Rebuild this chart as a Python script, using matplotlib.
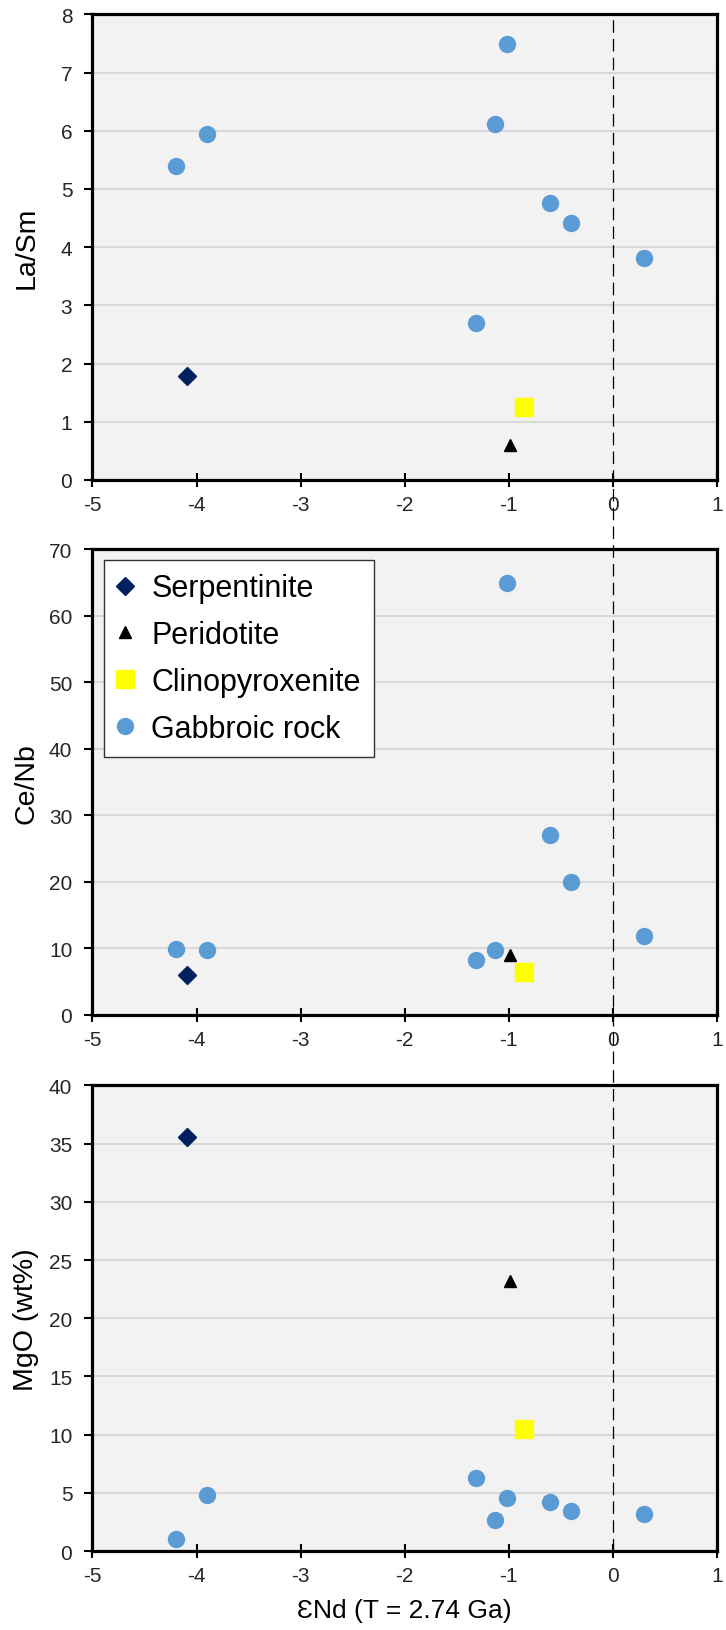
import numpy as np
import matplotlib
matplotlib.use("Agg")
import matplotlib.pyplot as plt
from matplotlib.lines import Line2D
from matplotlib.transforms import blended_transform_factory

plt.rcParams["axes.unicode_minus"] = False

# eNd (T = 2.74 Ga) for each rock type
serp_end = [-4.09]
perid_end = [-0.99]
clino_end = [-0.85]
gabbro_end = [-4.20, -3.90, -1.32, -1.13, -1.02, -0.60, -0.40, 0.30]

# La/Sm
serp_lasm = [1.78]
perid_lasm = [0.60]
clino_lasm = [1.26]
gabbro_lasm = [5.39, 5.95, 2.69, 6.11, 7.49, 4.76, 4.42, 3.81]

# Ce/Nb
serp_cenb = [6.0]
perid_cenb = [9.0]
clino_cenb = [6.4]
gabbro_cenb = [9.95, 9.7, 8.3, 9.8, 65.0, 27.0, 20.0, 11.8]

# MgO (wt%)
serp_mgo = [35.6]
perid_mgo = [23.2]
clino_mgo = [10.45]
gabbro_mgo = [1.04, 4.8, 6.3, 2.66, 4.6, 4.2, 3.4, 3.2]

panels = [
    ("La/Sm", serp_lasm, perid_lasm, clino_lasm, gabbro_lasm, 8, 1),
    ("Ce/Nb", serp_cenb, perid_cenb, clino_cenb, gabbro_cenb, 70, 10),
    ("MgO (wt%)", serp_mgo, perid_mgo, clino_mgo, gabbro_mgo, 40, 5),
]
xticks = [-5, -4, -3, -2, -1, 0, 1]

label_font = ["Liberation Sans", "DejaVu Sans"]

fig = plt.figure(figsize=(7.26, 16.31), dpi=100)
left, width = 0.1274, 0.8602
bottoms = [0.7051, 0.3771, 0.0484]
height = 0.2855

axes = []
for i, (ylab, serp, perid, clino, gabbro, ymax, ystep) in enumerate(panels):
    ax = fig.add_axes([left, bottoms[i], width, height])
    ax.set_facecolor("#F2F2F2")
    ax.set_xlim(-5, 1)
    ax.set_ylim(0, ymax)
    ax.set_xticks(xticks)
    ax.set_yticks(np.arange(0, ymax + ystep / 2, ystep))
    ax.yaxis.grid(True, color="#D9D9D9", lw=1.5, zorder=0)
    ax.set_axisbelow(True)
    for sp in ax.spines.values():
        sp.set_linewidth(2.3)
        sp.set_color("black")
    ax.tick_params(axis="x", direction="inout", length=10, width=1.5, pad=6,
                   labelsize=15, labelcolor="#262626")
    ax.tick_params(axis="y", direction="out", length=5.5, width=1.5, pad=9,
                   labelsize=15, labelcolor="#262626")
    for t in ax.get_xticklabels() + ax.get_yticklabels():
        t.set_family(label_font)

    ax.plot(serp_end, serp, ls="none", marker="D", ms=9, color="#002060",
            label="Serpentinite", zorder=3)
    ax.plot(perid_end, perid, ls="none", marker="^", ms=9, color="black",
            label="Peridotite", zorder=3)
    ax.plot(clino_end, clino, ls="none", marker="s", ms=13.5, color="#FFFF00",
            label="Clinopyroxenite", zorder=3)
    ax.plot(gabbro_end, gabbro, ls="none", marker="o", ms=11.5, color="#5B9BD5",
            label="Gabbroic rock", zorder=3)

    ax.set_ylabel(ylab, fontsize=20.5, family=label_font)
    ax.yaxis.set_label_coords(-0.085, 0.5)
    axes.append(ax)

axes[2].set_xlabel("\u0190Nd (T = 2.74 Ga)", fontsize=19, family=label_font)
axes[2].xaxis.set_label_coords(0.5, -0.1)

leg = axes[1].legend(loc="upper left", bbox_to_anchor=(0.0184, 0.978),
                     borderaxespad=0, fancybox=False, framealpha=1,
                     edgecolor="#333333", prop={"family": label_font, "size": 22},
                     handlelength=0.5, handletextpad=0.6, borderpad=0.45,
                     labelspacing=0.55)
leg.get_frame().set_linewidth(1.0)

# dashed line at eNd = 0 running through all three panels
trans = blended_transform_factory(axes[0].transData, fig.transFigure)
fig.lines.append(Line2D([0, 0], [bottoms[2], bottoms[0] + height], transform=trans,
                        color="black", lw=0.9, ls=(0, (10, 5)), zorder=1))

fig.savefig("out.png", dpi=100)
